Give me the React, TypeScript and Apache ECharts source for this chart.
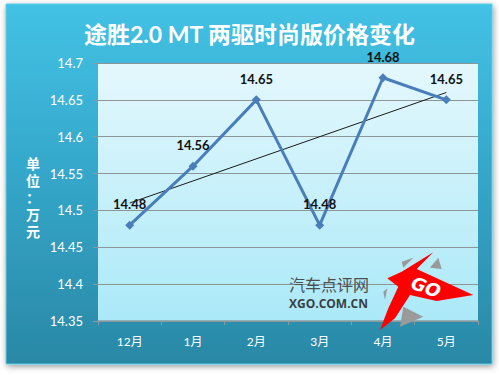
import React, { useEffect, useRef } from "react";
import * as echarts from "echarts";

const categories = ["12月", "1月", "2月", "3月", "4月", "5月"];
const prices = [14.48, 14.56, 14.65, 14.48, 14.68, 14.65];
const trendStartEnd = [14.51, 14.66];
const yMin = 14.35;
const yMax = 14.7;
const yStep = 0.05;
const titleText = "途胜2.0 MT 两驱时尚版价格变化";
const unitText = "单\n位\n：\n万\n元";
const watermarkCn = "汽车点评网";
const watermarkEn = "XGO.COM.CN";

const FONT = "Lato, 'Noto Sans CJK SC', sans-serif";

export default function App() {
  const ref = useRef<HTMLDivElement>(null);
  useEffect(() => {
    if (!ref.current) return;
    const chart = echarts.init(ref.current, undefined, { renderer: "svg" });
    const trend = categories.map((_, i) =>
      i === 0 ? trendStartEnd[0] : i === categories.length - 1 ? trendStartEnd[1] : null
    );
    chart.setOption({
      animation: false,
      backgroundColor: "#ffffff",
      title: {
        text: titleText,
        left: "center",
        top: 17,
        textStyle: { color: "#ffffff", fontSize: 23, fontWeight: "bold", fontFamily: FONT },
      },
      grid: {
        left: 98,
        right: 21,
        top: 63,
        bottom: 54,
        show: true,
        borderWidth: 0,
        backgroundColor: new echarts.graphic.LinearGradient(0, 0, 0, 1, [
          { offset: 0, color: "#e4f8fd" },
          { offset: 1, color: "#abe9f8" },
        ]),
      },
      xAxis: {
        type: "category",
        data: categories,
        boundaryGap: true,
        axisLine: { show: true, lineStyle: { color: "#8a9aa0", width: 1.5 } },
        axisTick: { show: true, length: 4, lineStyle: { color: "#8a9aa0" } },
        axisLabel: { color: "#ffffff", fontSize: 12, margin: 14, fontFamily: FONT },
      },
      yAxis: {
        type: "value",
        min: yMin,
        max: yMax,
        interval: yStep,
        axisLine: { show: false },
        axisTick: { show: true, length: 5, lineStyle: { color: "#8a9aa0" } },
        axisLabel: {
          color: "#ffffff",
          fontSize: 13,
          margin: 15,
          fontFamily: FONT,
          formatter: (v: number) => String(+v.toFixed(2)),
        },
        splitLine: { show: true, lineStyle: { color: "#8e9598", width: 1.2 } },
      },
      graphic: [
        {
          type: "rect",
          z: -10,
          silent: true,
          shape: { x: 6, y: 4, width: 486, height: 360 },
          style: {
            fill: new echarts.graphic.LinearGradient(0, 0, 0, 1, [
              { offset: 0, color: "#43c2e5" },
              { offset: 0.45, color: "#35a8cb" },
              { offset: 1, color: "#2a88a6" },
            ]),
            stroke: "#5fcde9",
            lineWidth: 1,
            shadowBlur: 6,
            shadowOffsetX: 1,
            shadowOffsetY: 2,
            shadowColor: "rgba(0,0,0,0.4)",
          },
        },
        {
          type: "text",
          z: 10,
          x: 33,
          y: 197,
          style: {
            text: unitText,
            fill: "#ffffff",
            font: `bold 14px ${FONT}`,
            lineHeight: 17,
            align: "center",
            verticalAlign: "middle",
          },
        },
        {
          type: "text",
          z: 10,
          x: 289,
          y: 284,
          style: {
            text: watermarkCn,
            fill: "#4a4f52",
            font: `16px 'Noto Sans CJK SC', sans-serif`,
            lineHeight: 16,
            align: "left",
            verticalAlign: "middle",
          },
        },
        {
          type: "text",
          z: 10,
          x: 289,
          y: 303,
          style: {
            text: watermarkEn,
            fill: "#3a3f42",
            font: `bold 12px 'Open Sans', sans-serif`,
            lineHeight: 12,
            align: "left",
            verticalAlign: "middle",
          },
        },
        {
          type: "polygon",
          z: 10,
          shape: { points: [[401.7, 261.7], [413.3, 257.7], [403.3, 267.7]] },
          style: { fill: "#9a9a9a" },
        },
        {
          type: "polygon",
          z: 10,
          shape: { points: [[438.3, 257.7], [441.7, 269], [430, 267.7]] },
          style: { fill: "#9a9a9a" },
        },
        {
          type: "polygon",
          z: 10,
          shape: { points: [[383.3, 291.7], [387.3, 288.3], [385, 300]] },
          style: { fill: "#9a9a9a" },
        },
        {
          type: "polygon",
          z: 10,
          shape: { points: [[403.3, 306.7], [423.3, 316.7], [400, 326.7]] },
          style: { fill: "#9a9a9a" },
        },
        {
          type: "polygon",
          z: 11,
          shape: {
            points: [
              [433.3, 252.3],
              [416.7, 269],
              [473.3, 295],
              [436.7, 301],
              [410, 295],
              [395, 318.3],
              [380, 330],
              [388.3, 308.3],
              [398.3, 286.7],
              [387.3, 278.3],
              [401.7, 271.7],
            ],
          },
          style: { fill: "#ff0000" },
        },
        {
          type: "text",
          z: 12,
          x: 426,
          y: 287,
          rotation: -0.35,
          style: {
            text: "GO",
            fill: "#ffffff",
            font: `italic bold 18px 'DejaVu Sans', sans-serif`,
            align: "center",
            verticalAlign: "middle",
            shadowBlur: 2,
            shadowColor: "rgba(0,0,0,0.5)",
            shadowOffsetX: 1,
            shadowOffsetY: 1,
          },
        },
      ],
      series: [
        {
          type: "line",
          data: trend,
          connectNulls: true,
          symbol: "none",
          z: 3,
          lineStyle: { color: "#1a1a1a", width: 1 },
          silent: true,
        },
        {
          type: "line",
          data: prices,
          symbol: "diamond",
          symbolSize: 9,
          z: 4,
          itemStyle: { color: "#4a7ebb" },
          lineStyle: { color: "#4a7ebb", width: 3 },
          label: {
            show: true,
            position: "top",
            distance: 10,
            color: "#111111",
            fontSize: 13,
            fontWeight: "bold",
            fontFamily: FONT,
          },
        },
      ],
    });
    return () => chart.dispose();
  }, []);
  return (
    <div
      ref={ref}
      style={{ position: "fixed", left: 0, top: 0, width: 499, height: 375 }}
    />
  );
}
